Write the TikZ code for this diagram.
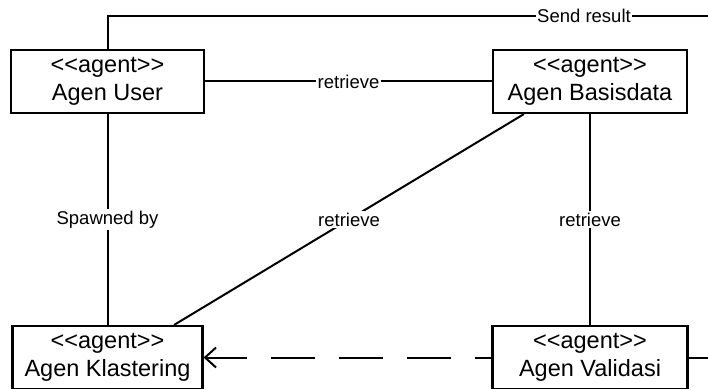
\documentclass[tikz,border=0pt]{standalone}
\usepackage{fontspec}
\setmainfont{Liberation Sans}[Ligatures=TeXOff]
\usetikzlibrary{arrows.meta}
\begin{document}
\begin{tikzpicture}[x=1pt,y=-1pt,
  agentbox/.style={draw, line width=2.1pt, minimum height=63pt, inner sep=0pt,
    align=center, font=\fontsize{23.5}{28.3}\selectfont},
  conn/.style={line width=2pt},
  lbl/.style={fill=white, inner sep=1.5pt, font=\fontsize{18.5}{22}\selectfont}]
\useasboundingbox (0,0) rectangle (708,390);
\clip (0,0) rectangle (708,388);

% agents
\node[agentbox, minimum width=193pt] (user)  at (107.5,81.5) {<<agent>>\\Agen User};
\node[agentbox, minimum width=194pt] (basis) at (590,81.5)   {<<agent>>\\Agen Basisdata};
\node[agentbox, minimum width=190pt] (klast) at (107.5,357.5) {<<agent>>\\Agen Klastering};
\node[agentbox, minimum width=195pt] (valid) at (590,357.5)  {<<agent>>\\Agen Validasi};

% loose ends running off to the right
\coordinate (sendend)  at (712,16);
\coordinate (validend) at (712,357.5);

% connectors
\draw[conn] (user.north) |- (sendend);
\node[lbl] (sendlbl) at (584,16) {Send result};

\draw[conn] (user) -- node[lbl] {retrieve} (basis);
\draw[conn] (user) -- node[lbl] {Spawned by} (klast);
\draw[conn] ([xshift=32pt]basis.south west) -- node[lbl] {retrieve} ([xshift=-29.5pt]klast.north east);
\draw[conn] (basis) -- node[lbl] {retrieve} (valid);
\draw[conn, dash pattern=on 44pt off 24pt, dash phase=28pt,
      -{Straight Barb[length=11pt,width=20pt]}]
  (valid.west) -- (klast.east);
\draw[conn] (valid.east) -- (validend);
\end{tikzpicture}
\end{document}
